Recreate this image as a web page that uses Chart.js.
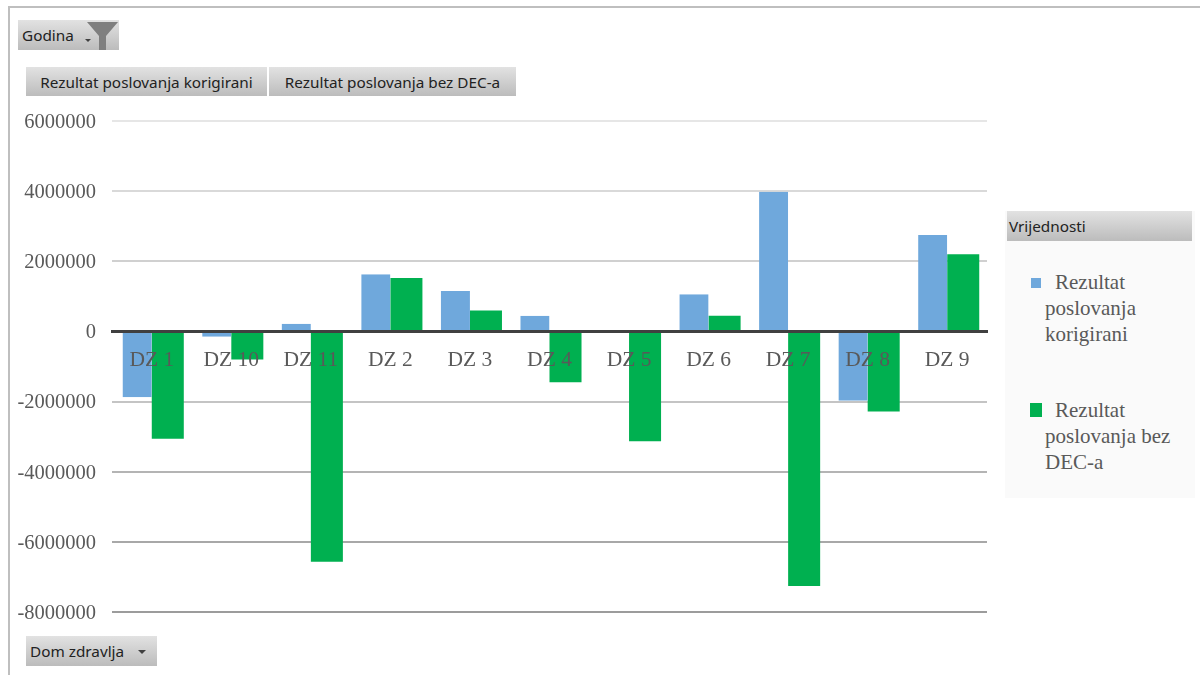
<!DOCTYPE html>
<html lang="en">
<head>
    <meta charset="utf-8">
    <title>Rezultat poslovanja</title>
    <script src="https://cdn.jsdelivr.net/npm/chart.js@4"></script>
    <style>
        html, body { margin: 0; padding: 0; background: #fff; }
        #page { position: relative; width: 1200px; height: 675px; overflow: hidden; }
        #frame { position: absolute; left: 8px; top: 6px; width: 1200px; height: 700px; border: 2px solid #bfbfbf; }
        canvas { position: absolute; left: 0; top: 0; }
        .field {
            position: absolute; box-sizing: border-box; height: 30px; line-height: 30px;
            background: linear-gradient(#e2e2e2, #bcbcbc); color: #222;
            font: 15.3px/30px "Noto Sans", sans-serif; white-space: nowrap;
        }
        .arrow { position: absolute; width: 0; height: 0; border-left: 4px solid transparent; border-right: 4px solid transparent; border-top: 4px solid #404040; }
        #legend { position: absolute; left: 1005px; top: 211px; width: 190px; height: 287px; background: #fafafa; }
        #legend .head {
            position: absolute; left: 2px; top: 0; width: 185px; height: 30px; padding-left: 2px; box-sizing: border-box;
            background: linear-gradient(#e2e2e2, #bcbcbc); color: #222; font: 15.3px/30px "Noto Sans", sans-serif;
        }
        #legend .item { position: absolute; left: 40px; width: 135px; color: #595959; font: 21px/26px "Liberation Serif", serif; text-indent: 10px; }
        #legend .swatch { position: absolute; }
    </style>
</head>
<body>
<div id="page">
    <div id="frame"></div>
    <canvas id="myChart" width="1200" height="675"></canvas>

    <div class="field" style="left:18px;top:20px;width:101px;padding-left:4px">Godina
        <span class="arrow" style="left:67px;top:19px;border-left-width:3px;border-right-width:3px;border-top-width:3px"></span>
        <svg style="position:absolute;left:67px;top:0" width="34" height="31"><polygon points="2,2 33,2 21,16 21,30 14,30 14,16" fill="#7f7f7f"/></svg>
    </div>
    <div id="fieldButtons"></div>
    <div class="field" style="left:26px;top:636px;width:131px;padding-left:4px">Dom zdravlja
        <span class="arrow" style="left:112px;top:14px"></span>
    </div>
    <div id="legend"><div class="head">Vrijednosti</div></div>
</div>
<script>
var categories = ["DZ 1", "DZ 10", "DZ 11", "DZ 2", "DZ 3", "DZ 4", "DZ 5", "DZ 6", "DZ 7", "DZ 8", "DZ 9"];
var korigirani = [-1880000, -150000, 220000, 1630000, 1150000, 450000, 0, 1060000, 3980000, -1980000, 2750000];
var bezDec = [-3060000, -800000, -6570000, 1520000, 600000, -1450000, -3130000, 450000, -7260000, -2280000, 2200000];
var seriesNames = ["Rezultat poslovanja korigirani", "Rezultat poslovanja bez DEC-a"];
var seriesColors = ["#6fa8dc", "#00b050"];
// from -8000000 up to 6000000, the lines get lighter towards the top
var gridColors = ["#9c9c9c", "#a8a8a8", "#b4b4b4", "#c4c4c4", "#cccccc", "#d0d0d0", "#d9d9d9", "#e6e6e6"];

// field buttons above the plot
var buttons = document.getElementById("fieldButtons");
[[26, 241], [269, 247]].forEach(function (b, i) {
    var el = document.createElement("div");
    el.className = "field";
    el.style.cssText = "left:" + b[0] + "px;top:67px;width:" + b[1] + "px;text-align:center;height:29px";
    el.textContent = seriesNames[i];
    buttons.appendChild(el);
});

// legend panel on the right
var legend = document.getElementById("legend");
[[58, 26, 67, 10, 10], [186, 25, 192, 12, 14]].forEach(function (l, i) {
    var item = document.createElement("div");
    item.className = "item";
    item.style.top = l[0] + "px";
    item.textContent = seriesNames[i];
    legend.appendChild(item);
    var sw = document.createElement("div");
    sw.className = "swatch";
    sw.style.cssText = "left:" + l[1] + "px;top:" + l[2] + "px;width:" + l[3] + "px;height:" + l[4] + "px;background:" + seriesColors[i];
    legend.appendChild(sw);
});

var ctx = document.getElementById("myChart").getContext("2d");
var myChart = new Chart(ctx, {
    type: "bar",
    data: {
        labels: categories,
        datasets: [{
            label: seriesNames[0],
            data: korigirani,
            backgroundColor: seriesColors[0],
            // blue is a bit narrower than green, on its outer side
            borderWidth: { left: 3 },
            borderColor: "rgba(0,0,0,0)"
        }, {
            label: seriesNames[1],
            data: bezDec,
            backgroundColor: seriesColors[1]
        }]
    },
    options: {
        responsive: false,
        animation: false,
        categoryPercentage: 0.805,
        barPercentage: 1,
        layout: { padding: { left: 0, top: 121, right: 213, bottom: 63 } },
        plugins: { legend: { display: false }, tooltip: { enabled: false } },
        scales: {
            x: {
                position: { y: 0 },
                grid: { display: false },
                border: { color: "#404040", width: 3, z: 1 },
                ticks: { z: 1, color: "#595959", padding: 8, maxRotation: 0, font: { family: "Liberation Serif", size: 21.5 } }
            },
            y: {
                min: -8000000,
                max: 6000000,
                afterFit: function (scale) { scale.width = 112; },
                grid: {
                    color: function (c) { return gridColors[c.index]; },
                    lineWidth: 2,
                    drawTicks: false
                },
                border: { display: false },
                ticks: {
                    stepSize: 2000000,
                    padding: 16,
                    labelOffset: 1.5,
                    color: "#595959",
                    font: { family: "Liberation Serif", size: 20.5 },
                    callback: function (v) { return String(v); }
                }
            }
        }
    }
});
</script>
</body>
</html>
